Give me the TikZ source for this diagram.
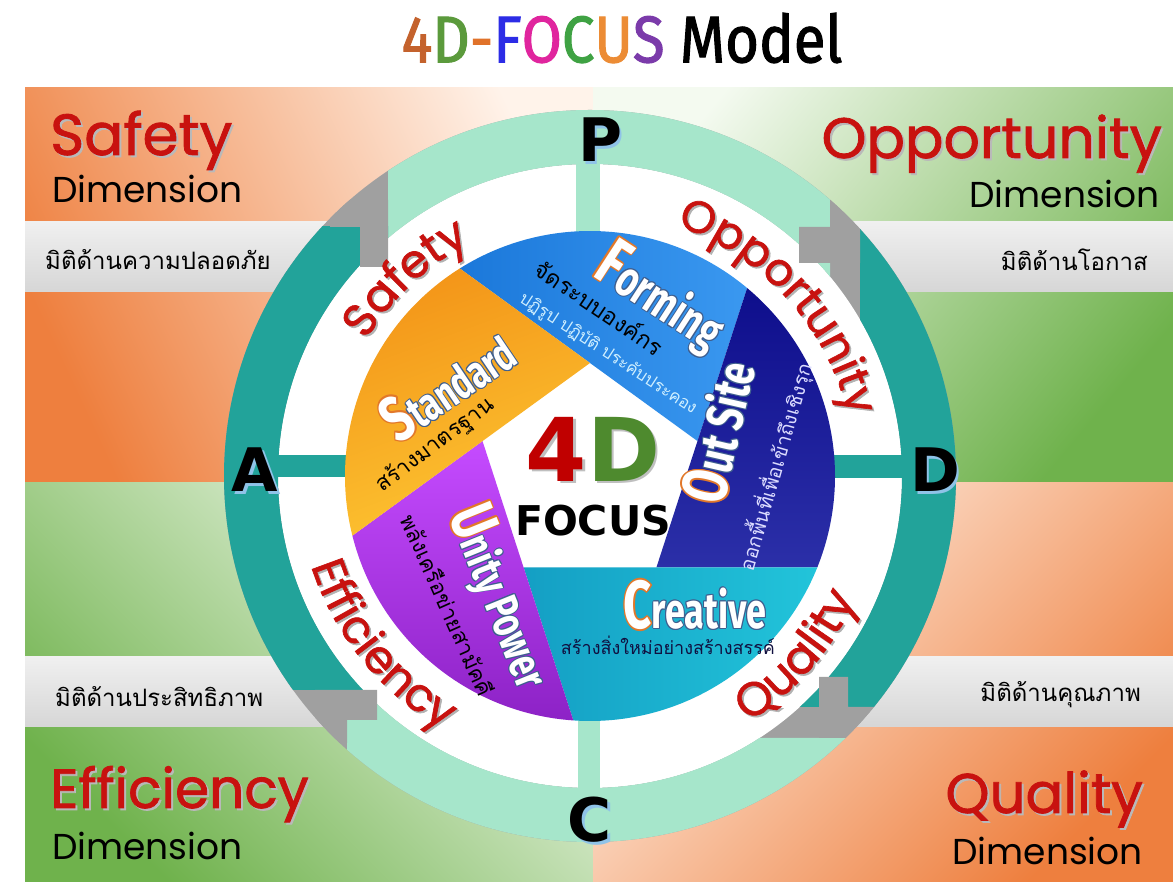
\documentclass[tikz,border=0pt]{standalone}
\usepackage{fontspec}
\usetikzlibrary{decorations.text}
\setmainfont{Liberation Sans}
\newfontfamily\titlefont[FakeStretch=0.88, FakeBold=1.6]{Fira Sans}
\newfontfamily\labfont{Poppins}
\newfontfamily\labfontb[FakeBold=1.4]{Poppins}
\newfontfamily\boldfont{DejaVu Sans}
\newfontfamily\techfont[FakeStretch=0.72]{Fira Sans}
\newfontfamily\thaifont[Script=Thai]{Loma}
\newcommand\fsz[1]{\fontsize{#1}{#1}\selectfont}
\newlength\olw
\newcommand\outl[4]{{\setlength\olw{#1}\setbox0\hbox{#4}%
 \color{#2}%
 \rlap{\kern\olw\copy0}\rlap{\kern-\olw\copy0}%
 \rlap{\raisebox{\olw}{\copy0}}\rlap{\raisebox{-\olw}{\copy0}}%
 \rlap{\kern.7\olw\raisebox{.7\olw}{\copy0}}\rlap{\kern-.7\olw\raisebox{.7\olw}{\copy0}}%
 \rlap{\kern.7\olw\raisebox{-.7\olw}{\copy0}}\rlap{\kern-.7\olw\raisebox{-.7\olw}{\copy0}}%
 \color{#3}\copy0}}
\definecolor{orangeBG}{HTML}{EE7F3E}
\definecolor{orangeL}{HTML}{FFF3EA}
\definecolor{greenBG}{HTML}{6FB24C}
\definecolor{greenL}{HTML}{F4FAF0}
\definecolor{ringteal}{HTML}{22A39A}
\definecolor{ringmint}{HTML}{A6E6CB}
\definecolor{ringgray}{HTML}{A0A0A0}
\definecolor{labred}{HTML}{C8120F}
\definecolor{formA}{HTML}{1B78DA}
\definecolor{formB}{HTML}{3A98F0}
\definecolor{navyA}{HTML}{0E0E8C}
\definecolor{navyB}{HTML}{2B2FA8}
\definecolor{cyanA}{HTML}{149FC4}
\definecolor{cyanB}{HTML}{22C4DA}
\definecolor{purpA}{HTML}{C54BFF}
\definecolor{purpB}{HTML}{8D22C6}
\definecolor{orA}{HTML}{F39418}
\definecolor{orB}{HTML}{FDC632}
\definecolor{edgeor}{HTML}{E2782A}
\definecolor{edgebl}{HTML}{3F5F8F}
\definecolor{tfour}{HTML}{C4622D}
\definecolor{tD}{HTML}{5B9A3C}
\definecolor{tdash}{HTML}{E0722A}
\definecolor{tF}{HTML}{2C2CE6}
\definecolor{tO}{HTML}{E0259E}
\definecolor{tC}{HTML}{3FA243}
\definecolor{tU}{HTML}{EC8C35}
\definecolor{tS}{HTML}{7B3BAA}
\definecolor{redfour}{HTML}{C00000}
\definecolor{greenD}{HTML}{4E8A2E}
\definecolor{pdcashadow}{HTML}{8FC3E8}
\definecolor{lightcyan}{HTML}{CFEFFF}
\definecolor{lightlav}{HTML}{DCDCFF}
\definecolor{darknavy}{HTML}{101040}
\begin{document}
\begin{tikzpicture}[x=1pt,y=1pt,
  pdca/.style={font=\boldfont\bfseries\fsz{60}, text=black, inner sep=0pt},
  pdcash/.style={font=\boldfont\bfseries\fsz{60}, text=pdcashadow, inner sep=0pt},
  biglab/.style={font=\labfontb\fsz{#1}, text=labred, inner sep=0pt},
  bigsh/.style={font=\labfontb\fsz{#1}, text=gray!55, inner sep=0pt},
  dimlab/.style={font=\labfont\fsz{36}, text=black, inner sep=0pt},
  barlab/.style={font=\thaifont\fsz{24}, text=black, inner sep=0pt},
  thaisub/.style={font=\thaifont\fsz{#1}, inner sep=0pt},
  annulus/.style={even odd rule}
]
\useasboundingbox (0,0) rectangle (1173,888);
\fill[white] (0,0) rectangle (1173,888);
% background quadrants
\shade[top color=orangeL, bottom color=orangeBG, shading angle=-65] (25,405) rectangle (593,800);
\shade[top color=greenL, bottom color=greenBG, shading angle=50] (593,405) rectangle (1173,800);
\shade[top color=greenL, bottom color=greenBG, shading angle=-45] (25,6) rectangle (593,405);
\shade[top color=orangeL, bottom color=orangeBG, shading angle=45] (593,6) rectangle (1173,405);
% gray bars
\shade[top color=gray!12, middle color=white, bottom color=gray!32] (25,596) rectangle (360,666);
\shade[top color=gray!12, middle color=white, bottom color=gray!32] (820,596) rectangle (1173,666);
\shade[top color=gray!12, middle color=white, bottom color=gray!32] (25,161) rectangle (360,231);
\shade[top color=gray!12, middle color=white, bottom color=gray!32] (820,161) rectangle (1173,231);
% ring
\fill[ringgray] (590,412) circle (366);
\fill[white] (590,412) circle (312);
\begin{scope}
 \clip (388,412) rectangle (830,800);
 \fill[ringmint, annulus] (590,412) circle (366) (590,412) circle (312);
\end{scope}
\begin{scope}
 \clip (860,800) -- (1000,800) -- (1000,181) -- (590,181) -- (590,412) -- (860,412) -- cycle;
 \fill[ringteal, annulus] (590,412) circle (366) (590,412) circle (312);
\end{scope}
\begin{scope}
 \clip (347,412) -- (590,412) -- (590,150) -- (1000,150) -- (1000,0) -- (347,0) -- cycle;
 \fill[ringmint, annulus] (590,412) circle (366) (590,412) circle (312);
\end{scope}
\begin{scope}
 \clip (150,198) rectangle (388,661);
 \fill[ringteal, annulus] (590,412) circle (366) (590,412) circle (312);
\end{scope}
\begin{scope}
 \clip (590,412) circle (366);
 \fill[ringgray] (330,688) -- (388,688) -- (388,621) -- (360,621) -- (360,661) -- (330,661) -- cycle;
 \fill[ringgray] (830,688) -- (860,688) -- (860,625) -- (799,625) -- (799,661) -- (830,661) -- cycle;
 \fill[ringgray] (819,211) -- (848,211) -- (848,181) -- (878,181) -- (878,150) -- (819,150) -- cycle;
 \fill[ringgray] (315,198) -- (377,198) -- (377,168) -- (347,168) -- (347,145) -- (315,145) -- cycle;
\end{scope}
% spokes
\fill[ringteal] (270,411) rectangle (350,433);
\fill[ringteal] (830,410) rectangle (905,433);
\fill[ringmint] (576,648) rectangle (600,728);
\fill[ringmint] (578,88) rectangle (600,168);
% pie
\begin{scope}[shift={(590,412)}]
 \shade[left color=formA, right color=formB] (90:113) -- (122.1:245) arc[start angle=122.1, end angle=50.1, radius=245] -- (18:113) -- cycle;
 \shade[top color=navyA, bottom color=navyB] (18:113) -- (50.1:245) arc[start angle=50.1, end angle=-21.9, radius=245] -- (-54:113) -- cycle;
 \shade[left color=cyanA, right color=cyanB] (-54:113) -- (-21.9:245) arc[start angle=-21.9, end angle=-93.9, radius=245] -- (-126:113) -- cycle;
 \shade[top color=purpA, bottom color=purpB] (-126:113) -- (-93.9:245) arc[start angle=-93.9, end angle=-165.9, radius=245] -- (162:113) -- cycle;
 \shade[left color=orA, right color=orB, shading angle=20] (162:113) -- (194.1:245) arc[start angle=194.1, end angle=122.1, radius=245] -- (90:113) -- cycle;
 % curved labels
 \path[decorate, decoration={text along path, text align=center, text={|\labfontb\fsz{46}\color{gray!60}|Safety}}] ([shift={(1.8,-1.8)}]175:262) arc[start angle=175, end angle=91, radius=262];
 \path[decorate, decoration={text along path, text align=center, text={|\labfontb\fsz{46}\color{labred}|Safety}}] (175:262) arc[start angle=175, end angle=91, radius=262];
 \path[decorate, decoration={text along path, text align=center, text={|\labfontb\fsz{45}\color{gray!60}|Opportunity}}] ([shift={(1.8,-1.8)}]95:265) arc[start angle=95, end angle=-11, radius=265];
 \path[decorate, decoration={text along path, text align=center, text={|\labfontb\fsz{45}\color{labred}|Opportunity}}] (95:265) arc[start angle=95, end angle=-11, radius=265];
 \path[decorate, decoration={text along path, text align=center, text={|\labfontb\fsz{46}\color{gray!60}|Efficiency}}] ([shift={(1.8,-1.8)}]170:293) arc[start angle=170, end angle=268, radius=293];
 \path[decorate, decoration={text along path, text align=center, text={|\labfontb\fsz{46}\color{labred}|Efficiency}}] (170:293) arc[start angle=170, end angle=268, radius=293];
 \path[decorate, decoration={text along path, text align=center, text={|\labfontb\fsz{47}\color{gray!60}|Quality}}] ([shift={(1.8,-1.8)}]-88:293) arc[start angle=-88, end angle=6, radius=293];
 \path[decorate, decoration={text along path, text align=center, text={|\labfontb\fsz{47}\color{labred}|Quality}}] (-88:293) arc[start angle=-88, end angle=6, radius=293];
\end{scope}
% center 4D FOCUS
\node[font=\boldfont\bfseries\fsz{88}, text=gray!50, inner sep=0pt] (fourdsh) at (595.5,436.5) {4D};
\node[font=\boldfont\bfseries\fsz{88}, inner sep=0pt] (fourd) at (593,439) {\color{redfour}4\color{greenD}D};
\node[font=\boldfont\bfseries\fsz{41}, text=black, inner sep=0pt] (focus) at (593,367) {FOCUS};
% sector words
\node[rotate=-33, inner sep=0pt] (forming) at (660,590) {\techfont\bfseries\outl{1.6pt}{edgeor}{white}{\fsz{68}F}\outl{1pt}{edgebl}{white}{\fsz{50}orming}};
\node[thaisub=23, text=black, rotate=-34] (formth) at (600,581) {จัดระบบองค์กร};
\node[thaisub=17, text=lightcyan, rotate=-33] (formsub) at (608,534) {ปฏิรูป ปฏิบัติ ประคับประคอง};
\node[rotate=34, inner sep=0pt] (standard) at (447,503) {\techfont\bfseries\outl{1.6pt}{edgeor}{white}{\fsz{64}S}\outl{1pt}{edgebl}{white}{\fsz{46}tandard}};
\node[thaisub=22, text=black, rotate=37] (standth) at (435,443) {สร้างมาตรฐาน};
\node[rotate=-68, inner sep=0pt] (unity) at (500,291) {\techfont\bfseries\outl{1.6pt}{edgeor}{white}{\fsz{64}U}\outl{1pt}{edgebl}{white}{\fsz{46}nity Power}};
\node[thaisub=22, text=black, rotate=-66] (unityth) at (448,283) {พลังเครือข่ายสามัคคี};
\node[rotate=77, inner sep=0pt] (outsite) at (718,456) {\techfont\bfseries\outl{1.6pt}{edgeor}{white}{\fsz{64}O}\outl{1pt}{edgebl}{white}{\fsz{52}ut Site}};
\node[thaisub=20, text=lightlav, rotate=74] (outth) at (775,421) {ออกพื้นที่เพื่อเข้าถึงเชิงรุก};
\node[inner sep=0pt] (creative) at (695,283) {\techfont\bfseries\outl{1.6pt}{edgeor}{white}{\fsz{68}C}\outl{1pt}{edgebl}{white}{\fsz{50}reative}};
\node[thaisub=18, text=darknavy] (creatth) at (668,243) {สร้างสิ่งใหม่อย่างสร้างสรรค์};
% PDCA letters
\node[pdcash] (Psh) at (602.5,745.5) {P};
\node[pdca] (P) at (600,748) {P};
\node[pdcash] (Dsh) at (937.5,415.5) {D};
\node[pdca] (D) at (935,418) {D};
\node[pdcash] (Csh) at (592.5,65.5) {C};
\node[pdca] (C) at (590,68) {C};
\node[pdcash] (Ash) at (257.5,415.5) {A};
\node[pdca] (A) at (255,418) {A};
% title
\node[font=\titlefont\fsz{66}, inner sep=0pt] (title) at (622,850) {\color{tfour}4\color{tD}D\color{tdash}-\color{tF}F\color{tO}O\color{tC}C\color{tU}U\color{tS}S \color{black}Model};
% corner labels
\node[bigsh=58, anchor=base west] (safetysh) at (52,731) {Safety};
\node[biglab=58, anchor=base west] (safety) at (50,733) {Safety};
\node[dimlab, anchor=base west] (dimtl) at (52,685) {Dimension};
\node[bigsh=57, anchor=base east] (opposh) at (1164,728) {Opportunity};
\node[biglab=57, anchor=base east] (oppo) at (1162,730) {Opportunity};
\node[dimlab, anchor=base east] (dimtr) at (1160,680) {Dimension};
\node[bigsh=55, anchor=base west] (effish) at (52,78) {Efficiency};
\node[biglab=55, anchor=base west] (effi) at (50,80) {Efficiency};
\node[dimlab, anchor=base west] (dimbl) at (52,28) {Dimension};
\node[bigsh=56, anchor=base east] (qualsh) at (1145,73) {Quality};
\node[biglab=56, anchor=base east] (qual) at (1143,75) {Quality};
\node[dimlab, anchor=base east] (dimbr) at (1143,23) {Dimension};
% bar labels
\node[barlab, anchor=west] (bartl) at (45,628) {มิติด้านความปลอดภัย};
\node[barlab, anchor=east] (bartr) at (1148,628) {มิติด้านโอกาส};
\node[barlab, anchor=west] (barbl) at (55,191) {มิติด้านประสิทธิภาพ};
\node[barlab, anchor=east] (barbr) at (1141,193) {มิติด้านคุณภาพ};
\end{tikzpicture}
\end{document}
